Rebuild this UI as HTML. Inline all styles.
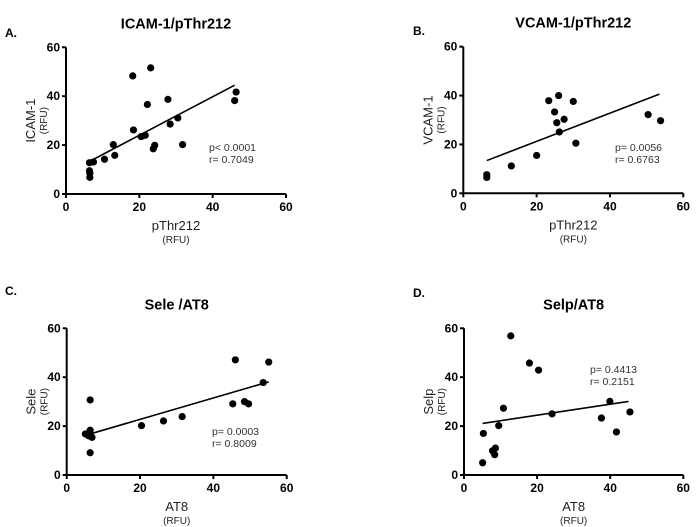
<!DOCTYPE html>
<html><head><meta charset="utf-8"><style>
body{margin:0;background:#fff;}
svg{display:block;font-family:"Liberation Sans",Arial,sans-serif;}
</style></head><body>
<svg id="chart" width="700" height="527"></svg>
<script>
const xA=[6.4,6.4,6.5,6.5,7.5,10.5,12.9,13.3,18.4,18.2,20.5,21.6,22.2,23.1,23.8,24.2,27.8,28.4,30.5,31.8,46,46.4];
const yA=[12.8,9.5,8.5,6.8,13.1,14.2,20.2,15.8,26.2,48.3,23.5,24,36.6,51.6,18.5,19.9,38.7,28.6,31.1,20.2,38.2,41.7];
const fitA=[[6.5,13.4],[46,44.5]];
const xB=[6.4,6.4,13.1,20,23.3,24.9,25.5,26,26.2,27.5,30,30.7,50.4,53.8];
const yB=[7.6,6.5,11.2,15.5,37.9,33.3,28.9,40,25.1,30.3,37.6,20.5,32.2,29.7];
const fitB=[[6.4,13.4],[53.5,40.6]];
const xC=[5.1,6,6.4,6.4,6.4,6.9,20.4,26.4,31.5,45.3,46,48.5,49.6,53.6,55.1];
const yC=[16.8,16,30.7,18.3,9.1,15.4,20.2,22.1,23.9,29.1,47.1,30,29.1,37.8,46.2];
const fitC=[[6.4,16.8],[55.1,38.1]];
const xD=[5.1,5.3,7.8,8.4,8.6,9.5,10.8,12.8,17.9,20.4,24.1,37.6,39.9,41.7,45.4];
const yD=[5,17,9.9,8.3,11,20.2,27.3,56.9,45.8,42.9,25,23.3,30.1,17.6,25.8];
const fitD=[[5.1,21.1],[45,30.1]];
const ticks=[0,20,40,60];

const NS="http://www.w3.org/2000/svg";
const svg=document.getElementById('chart');
function mk(tag,attrs,parent,text){const e=document.createElementNS(NS,tag);for(const k in attrs)e.setAttribute(k,attrs[k]);if(text!==undefined)e.textContent=text;(parent||svg).appendChild(e);return e;}

const panels=[
 {id:'a',letter:'A.',lx:5,ly:37,title:'ICAM-1/pThr212',x0:66,x1:286,y0:194,y1:47.3,xs:xA,ys:yA,fit:fitA,xl:'pThr212',yl:'ICAM-1',p:'p< 0.0001',r:'r= 0.7049',ax:209,ay:151},
 {id:'b',letter:'B.',lx:413,ly:35,title:'VCAM-1/pThr212',x0:463.3,x1:683.3,y0:193.3,y1:46.7,xs:xB,ys:yB,fit:fitB,xl:'pThr212',yl:'VCAM-1',p:'p= 0.0056',r:'r= 0.6763',ax:615,ay:151},
 {id:'c',letter:'C.',lx:5,ly:295,title:'Sele /AT8',x0:66.7,x1:286.7,y0:475,y1:328.3,xs:xC,ys:yC,fit:fitC,xl:'AT8',yl:'Sele',p:'p= 0.0003',r:'r= 0.8009',ax:212,ay:435},
 {id:'d',letter:'D.',lx:413,ly:297,title:'Selp/AT8',x0:464,x1:683.3,y0:475,y1:328.3,xs:xD,ys:yD,fit:fitD,xl:'AT8',yl:'Selp',p:'p= 0.4413',r:'r= 0.2151',ax:590,ay:373}
];
panels.forEach(P=>{
 const g=mk('g',{});
 
 
 const sx=v=>P.x0+(P.x1-P.x0)*v/60, sy=v=>P.y0+(P.y1-P.y0)*v/60;
 const cx=(P.x0+P.x1)/2;
 const L=mk('text',{x:P.lx,y:P.ly,'font-size':12,'font-weight':'bold'},g,P.letter);
 
 const T=mk('text',{x:cx,y:P.y1-19,'font-size':14.5,'font-weight':'bold','text-anchor':'middle'},g,P.title);
 
 const ax=mk('path',{d:`M${P.x0} ${P.y1}V${P.y0}H${P.x1}`,stroke:'#000','stroke-width':2,fill:'none'},g);
 
 ticks.forEach(t=>{
  mk('line',{x1:sx(t),x2:sx(t),y1:P.y0,y2:P.y0+4,stroke:'#000','stroke-width':2},g);
  mk('line',{x1:P.x0-4,x2:P.x0,y1:sy(t),y2:sy(t),stroke:'#000','stroke-width':2},g);
  const tx=mk('text',{x:sx(t),y:P.y0+17,'font-size':12,'font-weight':'bold','text-anchor':'middle'},g,t);
  
  const ty=mk('text',{x:P.x0-6,y:sy(t)+4,'font-size':12,'font-weight':'bold','text-anchor':'end'},g,t);
  
 });
 const xl=mk('text',{x:cx,y:P.y0+36,'font-size':13,'text-anchor':'middle',fill:'#222'},g,P.xl);
 
 const xr=mk('text',{x:cx,y:P.y0+49,'font-size':10,'text-anchor':'middle',fill:'#222'},g,'(RFU)');
 
 const my=(P.y0+P.y1)/2;
 const yl=mk('text',{x:0,y:0,'font-size':13,'text-anchor':'middle',fill:'#222',transform:`translate(${P.x0-31},${my}) rotate(-90)`},g,P.yl);
 
 const yr=mk('text',{x:0,y:0,'font-size':10,'text-anchor':'middle',fill:'#222',transform:`translate(${P.x0-19},${my}) rotate(-90)`},g,'(RFU)');
 
 const fl=mk('line',{x1:sx(P.fit[0][0]),y1:sy(P.fit[0][1]),x2:sx(P.fit[1][0]),y2:sy(P.fit[1][1]),stroke:'#000','stroke-width':1.6},g);
 
 P.xs.forEach((v,i)=>{
  const c=mk('circle',{cx:sx(v),cy:sy(P.ys[i]),r:3.6,fill:'#000'},g);
  
  
 });
 const pt=mk('text',{x:P.ax,y:P.ay,'font-size':10.5,fill:'#333'},g,P.p);
 
 const rt=mk('text',{x:P.ax,y:P.ay+12,'font-size':10.5,fill:'#333'},g,P.r);
 
});
</script>
</body></html>
